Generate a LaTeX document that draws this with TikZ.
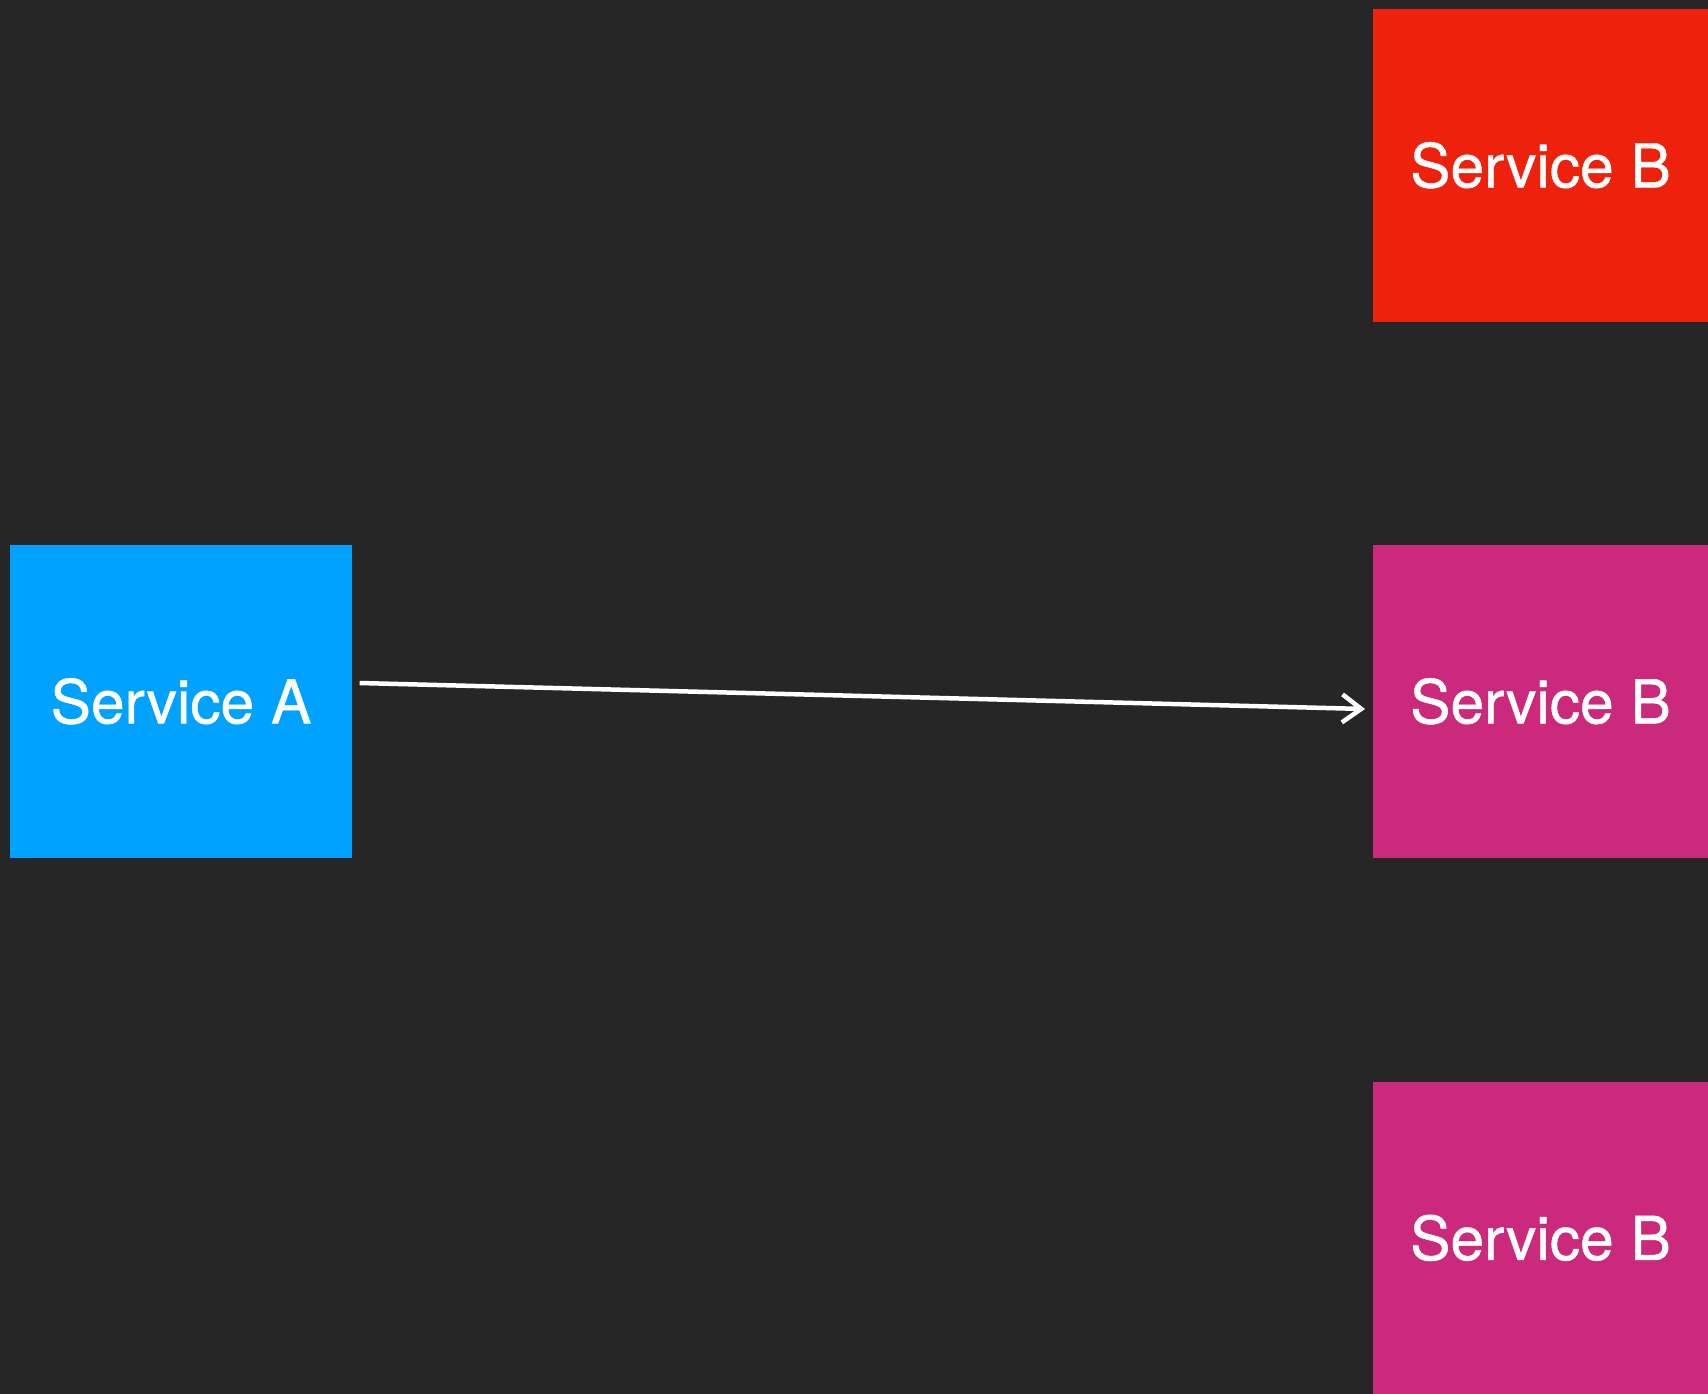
\documentclass[tikz,border=0pt]{standalone}
\usepackage{fontspec}
\setmainfont{TeX Gyre Heros}
\newfontfamily\svcfont[FakeBold=0.8]{TeX Gyre Heros}
\usetikzlibrary{arrows.meta}
\definecolor{bgc}{HTML}{262626}
\definecolor{blueA}{HTML}{00A2FF}
\definecolor{redB}{HTML}{EE220C}
\definecolor{magB}{HTML}{CB297B}
\tikzset{
  svc/.style={rectangle, inner sep=0pt, minimum width=335pt, minimum height=312.7pt,
    text=white, font=\svcfont\fontsize{60.5}{72}\selectfont},
  conn/.style={draw=white, line width=4.5pt, -{Straight Barb[length=19pt, width=28pt, line width=4.5pt]}}
}
\begin{document}
\begin{tikzpicture}[x=1pt,y=-1pt]
\fill[bgc] (0,0) rectangle (1708,1394);
\useasboundingbox (0,0) rectangle (1708,1394);
\node[svc, fill=blueA, minimum width=342pt] (A) at (181,701.3) {Service A};
\node[svc, fill=redB] (B1) at (1540.5,165.3) {Service B};
\node[svc, fill=magB] (B2) at (1540.5,701.3) {Service B};
\node[svc, fill=magB, minimum height=312.3pt] (B3) at (1540.5,1237.9) {Service B};
\coordinate (s) at (359.7,683);
\coordinate (t) at (1365,709);
\draw[conn] (s) -- (t);
\end{tikzpicture}
\end{document}
